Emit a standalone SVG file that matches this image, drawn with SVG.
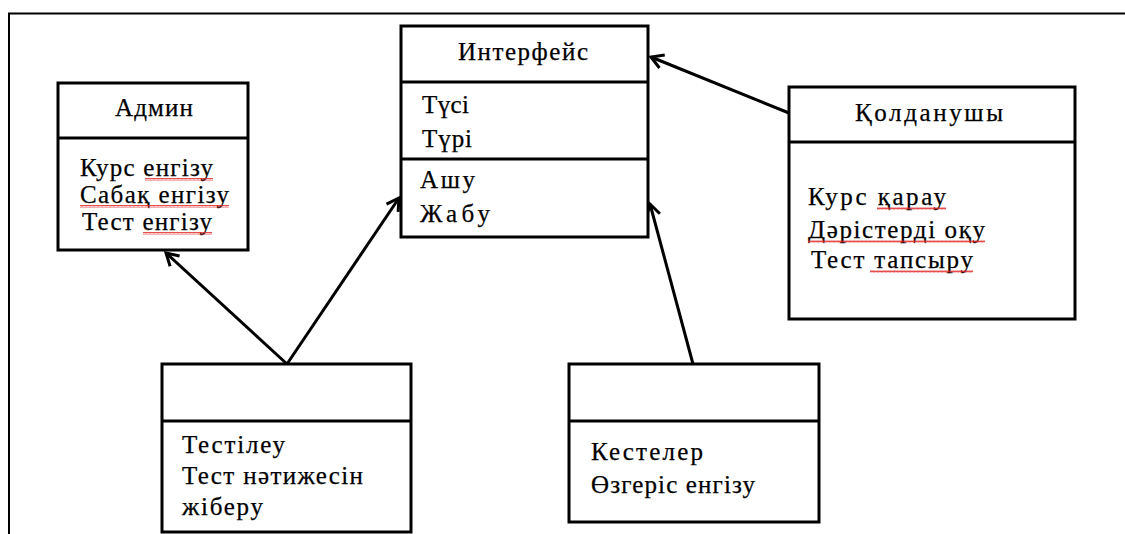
<svg xmlns="http://www.w3.org/2000/svg" width="1125" height="534" viewBox="0 0 1125 534">
<style>
.box{fill:#fff;stroke:#000;stroke-width:3}
.div{stroke:#000;stroke-width:3}
.t{font-family:"Liberation Serif","Times New Roman",serif;font-size:25px;fill:#000;stroke:#000;stroke-width:0.25}
.c{text-anchor:middle}
.con{stroke:#000;stroke-width:3;fill:none;marker-end:url(#arr)}
.sq{fill:url(#wave)}
</style>
<defs>
<marker id="arr" markerUnits="userSpaceOnUse" markerWidth="30" markerHeight="30" viewBox="-15 -15 30 30" refX="0" refY="0" orient="auto">
<path d="M-12,-7 L0,0 L-12,7" fill="none" stroke="#000" stroke-width="3"/>
</marker>
<pattern id="wave" width="4" height="3" patternUnits="userSpaceOnUse">
<path d="M0,2.5 L1,0.5 L2,2.5 L3,0.5 L4,2.5" fill="none" stroke="#e02020" stroke-width="0.8"/>
</pattern>
</defs>
<rect width="1125" height="534" fill="#fff"/>
<path d="M9,534 V13.5 H1125" fill="none" stroke="#000" stroke-width="2"/>

<g id="connectors">
<line class="con" x1="287" y1="364" x2="166" y2="253"/>
<line class="con" x1="287" y1="364" x2="399" y2="198"/>
<line class="con" x1="693" y1="364" x2="650" y2="204"/>
<line class="con" x1="789" y1="113" x2="651" y2="57"/>
</g>

<g id="admin">
<rect class="box" x="58" y="83" width="190" height="167"/>
<line class="div" x1="58" y1="138" x2="248" y2="138"/>
<text class="t c" x="154" y="116" textLength="78" lengthAdjust="spacing">Админ</text>
<text class="t" x="80" y="176" textLength="133" lengthAdjust="spacing">Курс енгізу</text>
<text class="t" x="80" y="203" textLength="149" lengthAdjust="spacing">Сабақ енгізу</text>
<text class="t" x="82" y="230" textLength="130" lengthAdjust="spacing">Тест енгізу</text>
<rect class="sq" x="145" y="178" width="68" height="3"/>
<rect class="sq" x="80" y="205" width="149" height="3"/>
<rect class="sq" x="143" y="232" width="69" height="3"/>
</g>

<g id="interface">
<rect class="box" x="401" y="26" width="247" height="211"/>
<line class="div" x1="401" y1="82" x2="648" y2="82"/>
<line class="div" x1="401" y1="159" x2="648" y2="159"/>
<text class="t c" x="523" y="60" textLength="130" lengthAdjust="spacing">Интерфейс</text>
<text class="t" x="422" y="113" textLength="47" lengthAdjust="spacing">Түсі</text>
<text class="t" x="422" y="147" textLength="50" lengthAdjust="spacing">Түрі</text>
<text class="t" x="420" y="188" textLength="55" lengthAdjust="spacing">Ашу</text>
<text class="t" x="420" y="222" textLength="70" lengthAdjust="spacing">Жабу</text>
</g>

<g id="qoldanushy">
<rect class="box" x="789" y="87" width="286" height="232"/>
<line class="div" x1="789" y1="142" x2="1075" y2="142"/>
<text class="t c" x="929" y="121" textLength="148" lengthAdjust="spacing">Қолданушы</text>
<text class="t" x="808" y="205" textLength="138" lengthAdjust="spacing">Курс қарау</text>
<text class="t" x="808" y="238" textLength="177" lengthAdjust="spacing">Дәрістерді оқу</text>
<text class="t" x="811" y="268" textLength="162" lengthAdjust="spacing">Тест тапсыру</text>
<rect class="sq" x="877" y="207" width="69" height="3"/>
<rect class="sq" x="808" y="240" width="177" height="3"/>
<rect class="sq" x="870" y="270" width="103" height="3"/>
</g>

<g id="testileu">
<rect class="box" x="162" y="364" width="249" height="168"/>
<line class="div" x1="162" y1="421" x2="411" y2="421"/>
<text class="t" x="182" y="453" textLength="103" lengthAdjust="spacing">Тестілеу</text>
<text class="t" x="182" y="484" textLength="181" lengthAdjust="spacing">Тест нәтижесін</text>
<text class="t" x="182" y="515" textLength="81" lengthAdjust="spacing">жіберу</text>
</g>

<g id="kesteler">
<rect class="box" x="569" y="364" width="250" height="158"/>
<line class="div" x1="569" y1="421" x2="819" y2="421"/>
<text class="t" x="591" y="460" textLength="112" lengthAdjust="spacing">Кестелер</text>
<text class="t" x="591" y="493" textLength="164" lengthAdjust="spacing">Өзгеріс енгізу</text>
</g>
</svg>
